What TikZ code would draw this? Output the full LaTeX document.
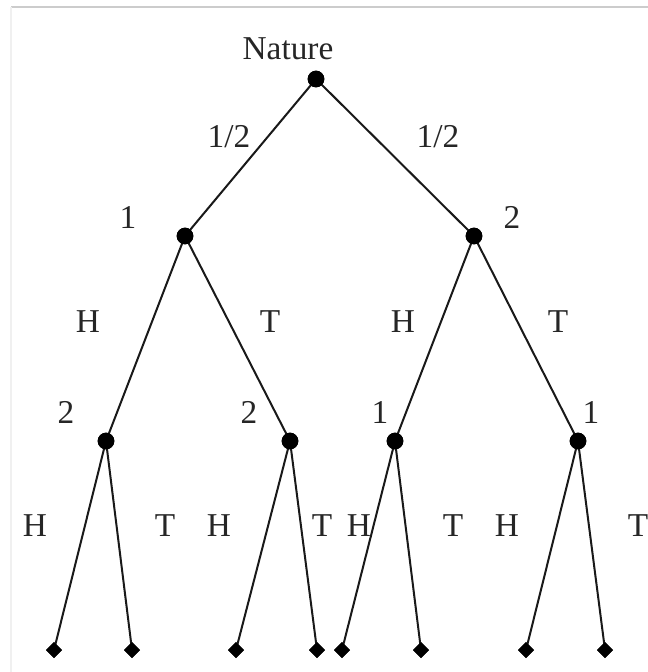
\documentclass[tikz,border=0pt]{standalone}
\usepackage{fontspec}
\setmainfont{Liberation Serif}
\usetikzlibrary{shapes.geometric}
\begin{document}
\begin{tikzpicture}[x=0.75pt,y=-0.75pt,
  dot/.style={circle,fill=black,inner sep=0pt,minimum size=12.5pt},
  leaf/.style={diamond,fill=black,inner sep=0pt,minimum size=12pt},
  lbl/.style={anchor=base,inner sep=0pt,font=\fontsize{25}{30}\selectfont,text=black!85},
  edge/.style={line width=1.5pt,black!90}]
\useasboundingbox (0,0) rectangle (648,672);
\fill[white] (0,0) rectangle (648,672);
\draw[gray!40,line width=1.1pt] (11,7) -- (648,7);
\draw[gray!12,line width=0.8pt] (11,7) -- (11,672);
% nodes
\node[dot] (r) at (316,79) {};
\node[dot] (a) at (185,236) {};
\node[dot] (b) at (474,236) {};
\node[dot] (aa) at (106,441) {};
\node[dot] (ab) at (290,441) {};
\node[dot] (ba) at (395,441) {};
\node[dot] (bb) at (578,441) {};
\node[leaf] (l1) at (54,650) {};
\node[leaf] (l2) at (132,650) {};
\node[leaf] (l3) at (236,650) {};
\node[leaf] (l4) at (317,650) {};
\node[leaf] (l5) at (342,650) {};
\node[leaf] (l6) at (421,650) {};
\node[leaf] (l7) at (526,650) {};
\node[leaf] (l8) at (605,650) {};
% edges
\draw[edge] (r.center) -- (a.center);
\draw[edge] (r.center) -- (b.center);
\draw[edge] (a.center) -- (aa.center);
\draw[edge] (a.center) -- (ab.center);
\draw[edge] (b.center) -- (ba.center);
\draw[edge] (b.center) -- (bb.center);
\draw[edge] (aa.center) -- (l1.center);
\draw[edge] (aa.center) -- (l2.center);
\draw[edge] (ab.center) -- (l3.center);
\draw[edge] (ab.center) -- (l4.center);
\draw[edge] (ba.center) -- (l5.center);
\draw[edge] (ba.center) -- (l6.center);
\draw[edge] (bb.center) -- (l7.center);
\draw[edge] (bb.center) -- (l8.center);
% labels
\node[lbl] (tn) at (288,59) {Nature};
\node[lbl] (p1) at (229,147) {1/2};
\node[lbl] (p2) at (438,147) {1/2};
\node[lbl] (t1) at (128,228) {1};
\node[lbl] (t2) at (512,228) {2};
\node[lbl] (h1) at (88,332) {H};
\node[lbl] (s1) at (270,332) {T};
\node[lbl] (h2) at (403,332) {H};
\node[lbl] (s2) at (558,332) {T};
\node[lbl] (u1) at (66,423) {2};
\node[lbl] (u2) at (249,423) {2};
\node[lbl] (u3) at (380,423) {1};
\node[lbl] (u4) at (591,423) {1};
\node[lbl] (g1) at (35,536) {H};
\node[lbl] (g2) at (165,536) {T};
\node[lbl] (g3) at (219,536) {H};
\node[lbl] (g4) at (322,536) {T};
\node[lbl] (g5) at (359,536) {H};
\node[lbl] (g6) at (453,536) {T};
\node[lbl] (g7) at (507,536) {H};
\node[lbl] (g8) at (638,536) {T};
% redraw dots and leaves over edges
\foreach \n in {r,a,b,aa,ab,ba,bb} \fill (\n) circle (6.25pt);
\foreach \n in {l1,l2,l3,l4,l5,l6,l7,l8} \fill ([yshift=6pt]\n.center) -- ([xshift=6pt]\n.center) -- ([yshift=-6pt]\n.center) -- ([xshift=-6pt]\n.center) -- cycle;
\end{tikzpicture}
\end{document}
